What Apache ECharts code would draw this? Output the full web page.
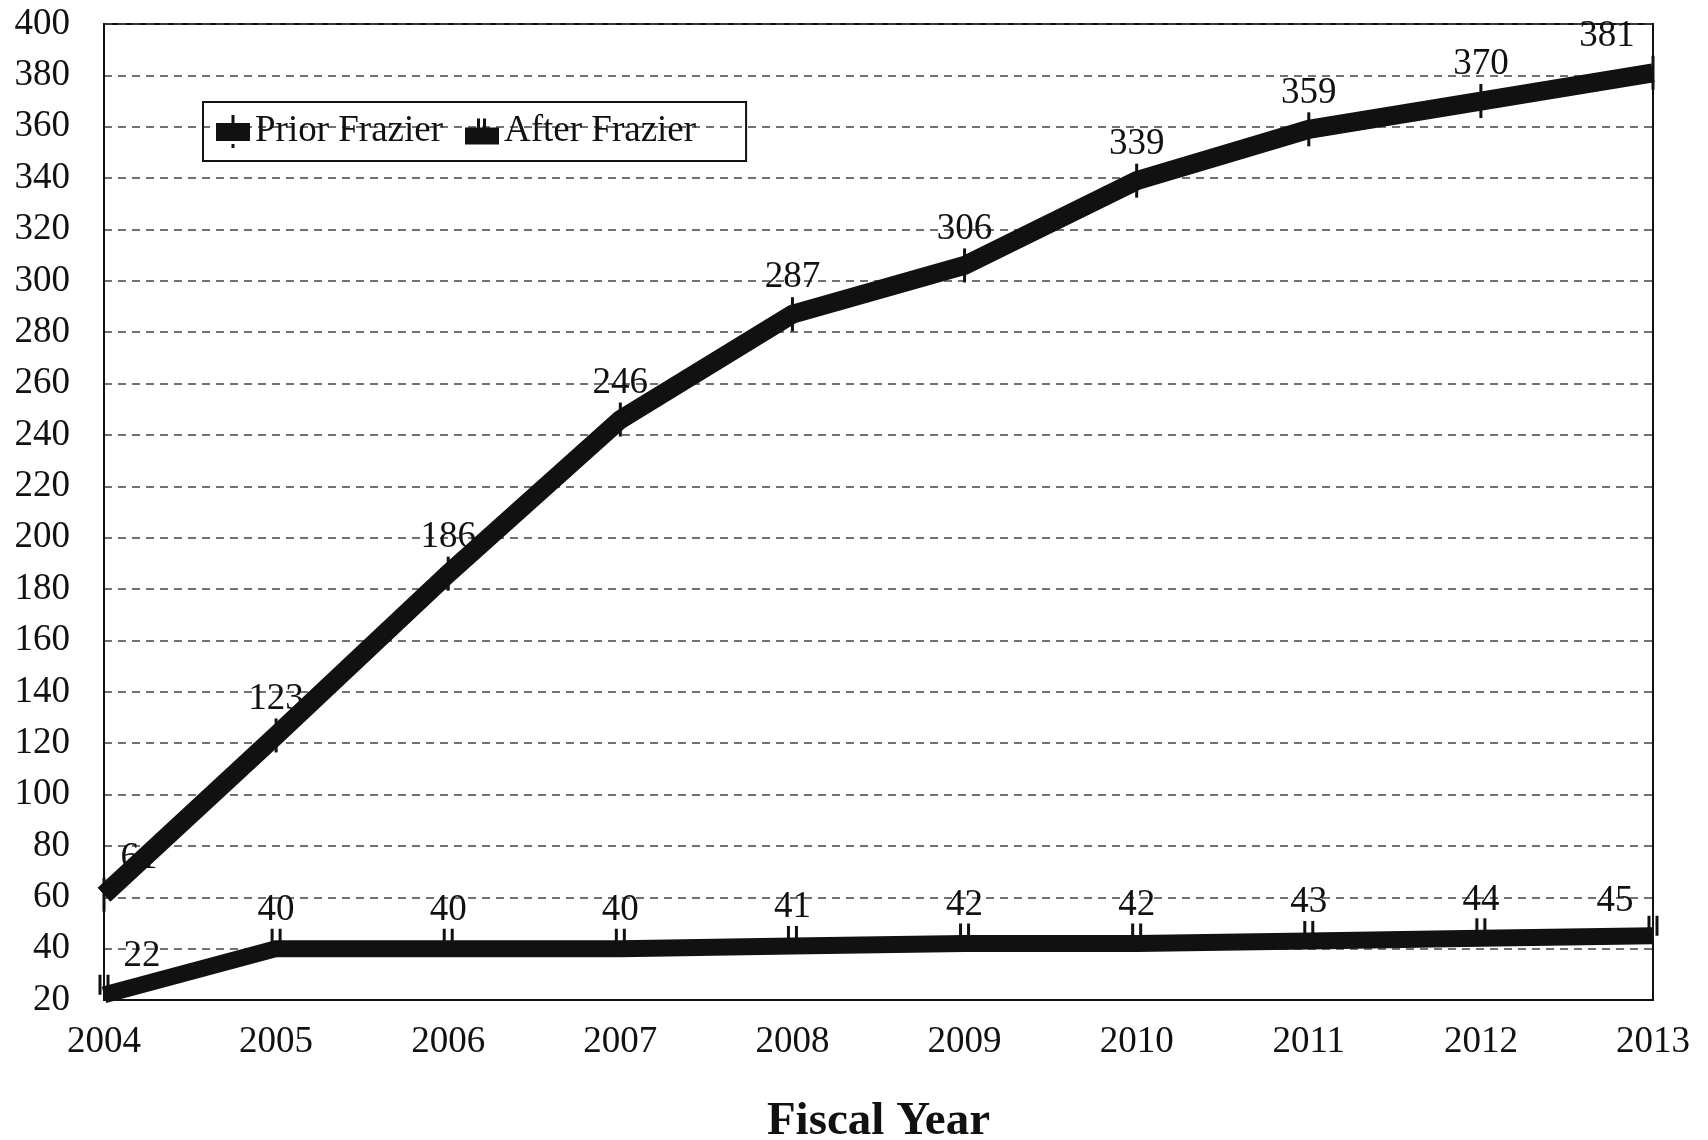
<!DOCTYPE html>
<html>
<head>
<meta charset="utf-8">
<script src="https://cdn.jsdelivr.net/npm/echarts@6/dist/echarts.min.js"></script>
<style>
  html, body { margin: 0; padding: 0; background: #ffffff; }
  #chart { width: 1708px; height: 1140px; }
</style>
</head>
<body>
<div id="chart"></div>
<script>
// Fiscal years on the category axis
const years = ['2004', '2005', '2006', '2007', '2008', '2009', '2010', '2011', '2012', '2013'];
// Cumulative counts per fiscal year
const priorFrazier = [61, 123, 186, 246, 287, 306, 339, 359, 370, 381];
const afterFrazier = [22, 40, 40, 40, 41, 42, 42, 43, 44, 45];
// Value axis range and step
const yMin = 20;
const yMax = 400;
const yStep = 20;

const SERIF = "'Liberation Serif', 'Times New Roman', serif";
const FS = 37;

// Marker shapes: a vertical tick for "Prior", a double bar for "After"
const priorMarker = 'path://M0,0H3V34H0Z';
const afterMarker = 'path://M0,0H3V20H0Z M8,0H11V20H8Z';
const priorIcon = 'path://M0,8H34V26H0Z M15.5,0H18.5V8H15.5Z M15.5,29H18.5V33H15.5Z';
const afterIcon = 'path://M0,10H34V27H0Z M12,1H15V10H12Z M18,1H21V10H18Z';

// Nudge end labels inward so they stay inside the frame
function withEdgeLabels(values, firstOffset, lastOffset) {
  return values.map((v, i) => {
    const item = { value: v };
    if (i === 0) item.label = { offset: firstOffset };
    if (i === values.length - 1) item.label = { offset: lastOffset };
    return item;
  });
}

const chart = echarts.init(document.getElementById('chart'), null, { renderer: 'canvas' });

chart.setOption({
  animation: false,
  backgroundColor: '#ffffff',
  textStyle: { fontFamily: SERIF, color: '#111' },
  grid: {
    left: 104, right: 55, top: 24, bottom: 140,
    outerBoundsMode: 'none',
    containLabel: false,
    show: true, borderColor: '#111', borderWidth: 2, backgroundColor: 'transparent'
  },
  legend: {
    left: 203, top: 102,
    orient: 'horizontal',
    borderColor: '#111', borderWidth: 2,
    padding: [11, 50, 11, 13],
    itemWidth: 34, itemHeight: 34, itemGap: 22,
    textStyle: { fontFamily: SERIF, fontSize: FS, color: '#111' },
    data: [
      { name: 'Prior Frazier', icon: priorIcon, itemStyle: { color: '#111' } },
      { name: 'After Frazier', icon: afterIcon, itemStyle: { color: '#111' } }
    ]
  },
  xAxis: {
    type: 'category',
    data: years,
    boundaryGap: false,
    axisLine: { show: true, lineStyle: { color: '#111', width: 2 } },
    axisTick: { show: false },
    axisLabel: { fontFamily: SERIF, fontSize: FS, color: '#111', margin: 24 },
    splitLine: { show: false },
    name: 'Fiscal Year',
    nameLocation: 'middle',
    nameGap: 98,
    nameTextStyle: { fontFamily: SERIF, fontSize: 47, fontWeight: 'bold', color: '#111' }
  },
  yAxis: {
    type: 'value',
    min: yMin, max: yMax, interval: yStep,
    axisLine: { show: true, lineStyle: { color: '#111', width: 2 } },
    axisTick: { show: false },
    axisLabel: { fontFamily: SERIF, fontSize: FS, color: '#111', margin: 34 },
    splitLine: { show: true, lineStyle: { color: '#444', width: 1.5, type: [8, 6] } }
  },
  series: [
    {
      name: 'Prior Frazier',
      type: 'line',
      data: withEdgeLabels(priorFrazier, [35, 0], [-46, 0]),
      symbol: priorMarker,
      symbolSize: [3, 34],
      showSymbol: true,
      itemStyle: { color: '#111' },
      lineStyle: { color: '#111', width: 19, join: 'miter' },
      label: {
        show: true, position: 'top', distance: 1,
        fontFamily: SERIF, fontSize: FS, color: '#111'
      },
      z: 3
    },
    {
      name: 'After Frazier',
      type: 'line',
      data: withEdgeLabels(afterFrazier, [38, 0], [-38, 4]),
      symbol: afterMarker,
      symbolSize: [11, 20],
      symbolOffset: [0, -10],
      showSymbol: true,
      itemStyle: { color: '#111' },
      lineStyle: { color: '#111', width: 17, join: 'miter' },
      label: {
        show: true, position: 'top', distance: 0,
        fontFamily: SERIF, fontSize: FS, color: '#111'
      },
      z: 3
    }
  ]
});
</script>
</body>
</html>
